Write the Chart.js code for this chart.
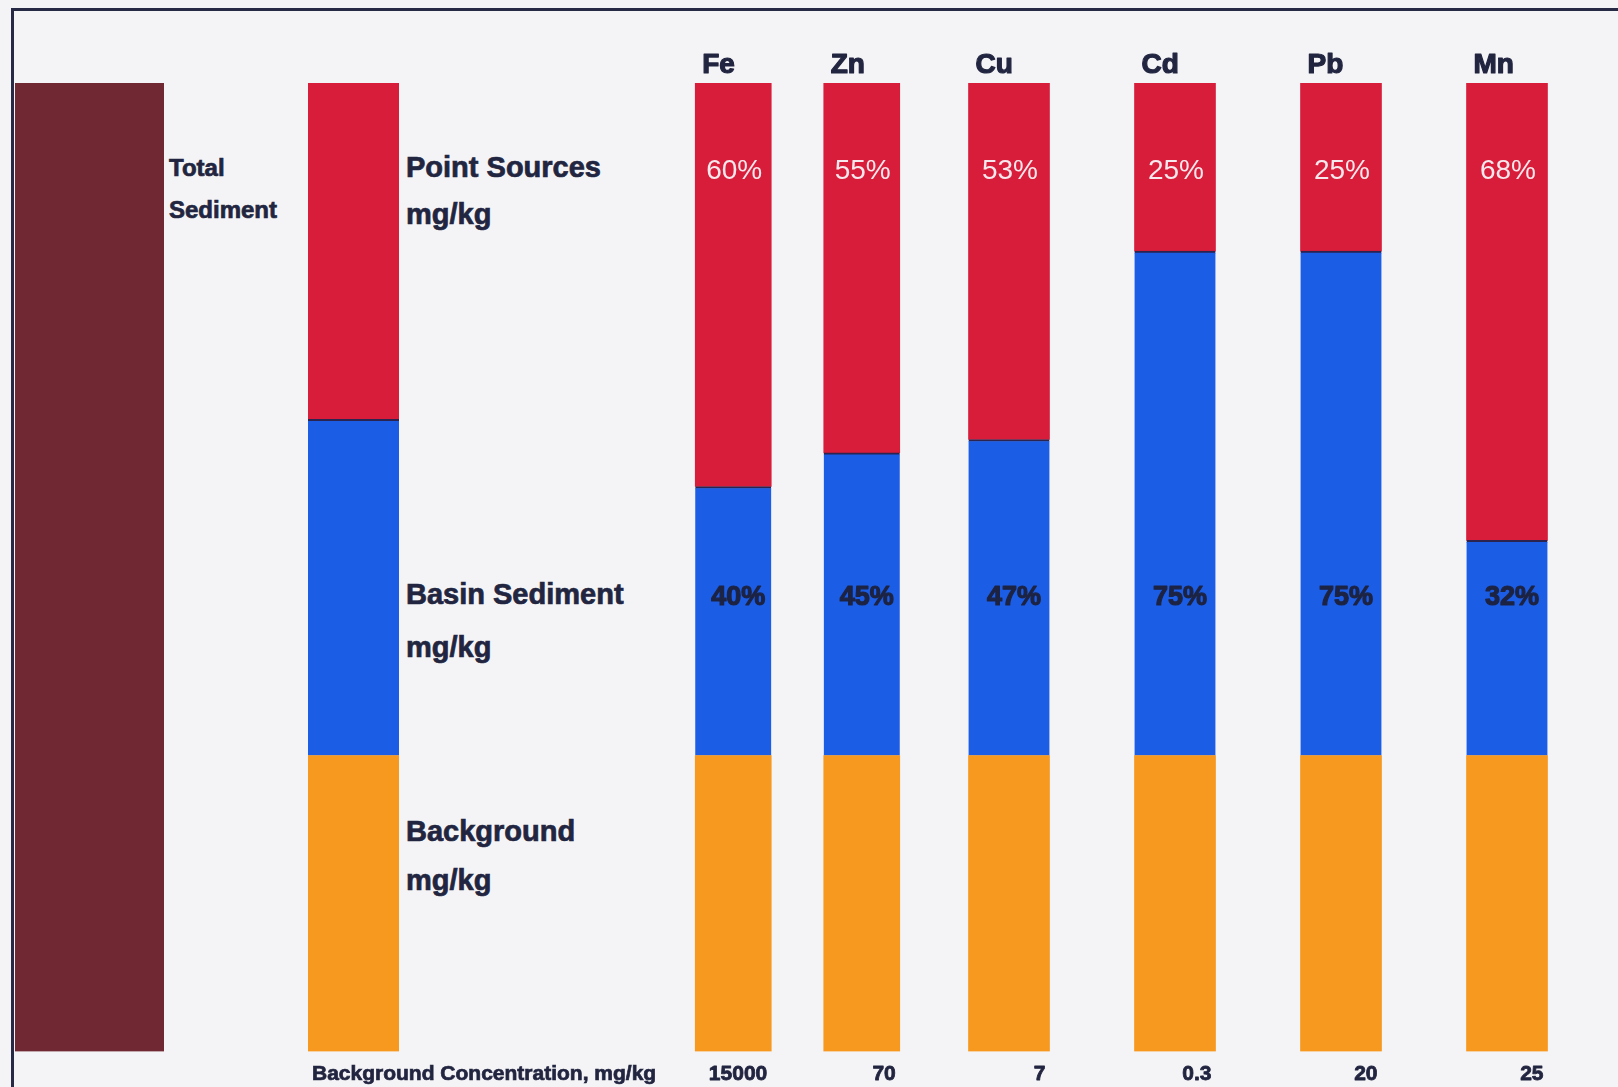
<!DOCTYPE html>
<html>
<head>
<meta charset="utf-8">
<title>Sources of metals in sediment</title>
<script src="https://cdn.jsdelivr.net/npm/chart.js@4.4.1/dist/chart.umd.min.js"></script>
<style>
  html, body { margin: 0; padding: 0; }
  body {
    width: 1618px; height: 1087px; overflow: hidden; position: relative;
    background: #f4f4f6;
    font-family: "Liberation Sans", Arial, sans-serif;
    color: #222540;
  }
  .frame {
    position: absolute; left: 11px; top: 8px; right: -10px; bottom: -10px;
    border-left: 3px solid #272a45; border-top: 3px solid #272a45;
  }
  canvas { position: absolute; top: 0; }
  .cap {
    position: absolute; font-weight: bold; line-height: 1; white-space: nowrap;
    -webkit-text-stroke: 0.7px #222540;
  }
</style>
</head>
<body>
<div class="frame"></div>

<canvas id="total" width="149" height="1087" style="left:15px"></canvas>
<canvas id="key" width="91" height="1087" style="left:308px"></canvas>
<canvas id="metalsA" width="257" height="1087" style="left:669px"></canvas>
<canvas id="metalsB" width="664" height="1087" style="left:926px"></canvas>

<div class="cap" style="left:169px; top:155.7px; font-size:24px">Total</div>
<div class="cap" style="left:169px; top:197.7px; font-size:24px">Sediment</div>
<div class="cap" style="left:406px; top:152.8px; font-size:29px">Point Sources</div>
<div class="cap" style="left:406px; top:199.5px; font-size:29px">mg/kg</div>
<div class="cap" style="left:406px; top:579.5px; font-size:29px">Basin Sediment</div>
<div class="cap" style="left:406px; top:632.5px; font-size:29px">mg/kg</div>
<div class="cap" style="left:406px; top:817px; font-size:29px">Background</div>
<div class="cap" style="left:406px; top:865.5px; font-size:29px">mg/kg</div>
<div class="cap" style="left:312px; top:1062.2px; font-size:21px">Background Concentration, mg/kg</div>

<script>
// ---- data ----
const metals = ['Fe', 'Zn', 'Cu', 'Cd', 'Pb', 'Mn'];
const pointSourcePct = [60, 55, 53, 25, 25, 68];
const basinSedimentPct = [40, 45, 47, 75, 75, 32];
const backgroundConc = [15000, 70, 7, 0.3, 20, 25];
// key bar: equal split between the two contributing sources
const keyPointPct = [50];
const keyBasinPct = [50];

// ---- layout / style ----
const BG_BAND = 44;              // height of the background block, in % units of the upper part
const Y_MAX = 100 + BG_BAND;
const PCT_LABEL_LEVEL = 129.8;   // baseline level of the point-source % labels
const BASIN_LABEL_LEVEL = 66.4;  // baseline level of the basin % labels
const COLORS = {
  point: '#d81d3b',
  basin: '#1b5de4',
  background: '#f7981f',
  total: '#702933',
  ink: '#222540',
  pointText: '#f6e8ec'
};
const PAD = { top: 83, bottom: 35.5, left: 0, right: 0 };
const FONT = '"Liberation Sans", Arial, sans-serif';

Chart.defaults.animation = false;
Chart.defaults.devicePixelRatio = 1;

function baseOptions() {
  return {
    responsive: false,
    maintainAspectRatio: false,
    layout: { padding: PAD },
    plugins: { legend: { display: false }, tooltip: { enabled: false } },
    scales: {
      x: { stacked: true, display: false, grid: { display: false } },
      y: { stacked: true, display: false, min: 0, max: Y_MAX, grid: { display: false } }
    }
  };
}

function stackDatasets(point, basin, thickness) {
  const n = point.length;
  const common = { borderWidth: 0, barThickness: thickness };
  return [
    Object.assign({ label: 'Background', data: new Array(n).fill(BG_BAND), backgroundColor: COLORS.background }, common),
    Object.assign({ label: 'Basin Sediment', data: basin, backgroundColor: COLORS.basin }, common,
      { borderWidth: { top: 2, left: 0, right: 0, bottom: 0 }, borderColor: '#2b2350', borderSkipped: false }),
    Object.assign({ label: 'Point Sources', data: point, backgroundColor: COLORS.point }, common)
  ];
}

// Total sediment bar
new Chart(document.getElementById('total'), {
  type: 'bar',
  data: {
    labels: ['Total Sediment'],
    datasets: [{ data: [Y_MAX], backgroundColor: COLORS.total, categoryPercentage: 1, barPercentage: 1, borderWidth: 0 }]
  },
  options: baseOptions()
});

// Key bar
new Chart(document.getElementById('key'), {
  type: 'bar',
  data: { labels: ['key'], datasets: stackDatasets(keyPointPct, keyBasinPct, 91) },
  options: baseOptions()
});

// heavy text: fill plus a thin outline in the same colour
function heavyText(ctx, text, x, y, color, stroke) {
  ctx.fillStyle = color;
  ctx.fillText(text, x, y);
  ctx.strokeStyle = color;
  ctx.lineWidth = stroke;
  ctx.lineJoin = 'round';
  ctx.strokeText(text, x, y);
}

// Per-bar labels: metal name, percentages and background concentration
const metalLabels = {
  id: 'metalLabels',
  afterDatasetsDraw(chart, args, opts) {
    const ctx = chart.ctx;
    const y = chart.scales.y;
    const meta = chart.getDatasetMeta(2);
    ctx.save();
    meta.data.forEach((bar, i) => {
      const k = opts.offset + i;
      const half = bar.width / 2;
      ctx.textBaseline = 'alphabetic';

      ctx.font = 'bold 28px ' + FONT;
      ctx.textAlign = 'left';
      heavyText(ctx, metals[k], bar.x - half + 7, 73.3, COLORS.ink, 1.2);

      ctx.fillStyle = COLORS.pointText;
      ctx.font = '28px ' + FONT;
      ctx.textAlign = 'center';
      ctx.fillText(pointSourcePct[k] + '%', bar.x + 1, y.getPixelForValue(PCT_LABEL_LEVEL));

      ctx.font = 'bold 27px ' + FONT;
      heavyText(ctx, basinSedimentPct[k] + '%', bar.x + 5, y.getPixelForValue(BASIN_LABEL_LEVEL), '#1d2342', 1.2);

      ctx.font = 'bold 21px ' + FONT;
      ctx.textAlign = 'right';
      heavyText(ctx, String(backgroundConc[k]), bar.x + half - 4, 1080, COLORS.ink, 0.8);
    });
    ctx.restore();
  }
};

function metalChart(id, from, to, thickness) {
  const opts = baseOptions();
  opts.plugins.metalLabels = { offset: from };
  return new Chart(document.getElementById(id), {
    type: 'bar',
    data: {
      labels: metals.slice(from, to),
      datasets: stackDatasets(pointSourcePct.slice(from, to), basinSedimentPct.slice(from, to), thickness)
    },
    options: opts,
    plugins: [metalLabels]
  });
}

metalChart('metalsA', 0, 2, 76);
metalChart('metalsB', 2, 6, 81);
</script>
</body>
</html>
